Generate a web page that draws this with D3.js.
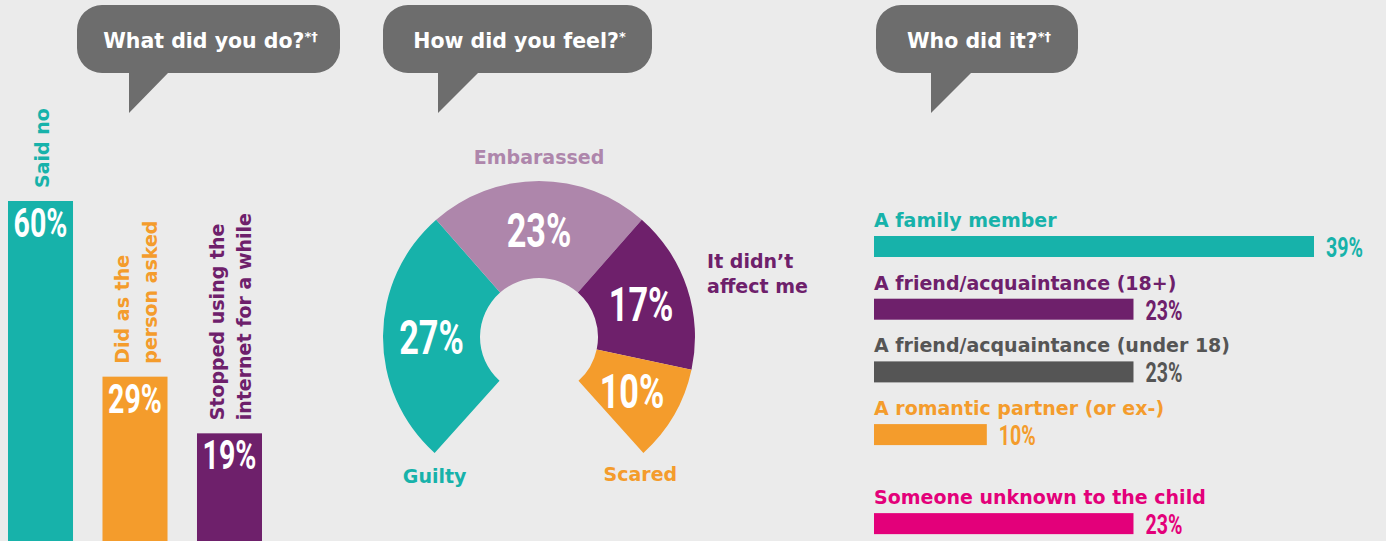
<!DOCTYPE html>
<html><head><meta charset="utf-8">
<script src="https://cdn.jsdelivr.net/npm/d3@7"></script>
<style>
html,body{margin:0;padding:0;background:#EBEBEB;overflow:hidden}
svg{display:block}
</style></head><body>
<svg id="chart" width="1386" height="541"></svg>
<script>
// ---------- DATA ----------
const titles = ["What did you do?", "How did you feel?", "Who did it?"];
const titleMarks = ["*†", "*", "*†"];

const doCategories = ["Said no", "Did as the person asked", "Stopped using the internet for a while"];
const doLabelLines = [["Said no"], ["Did as the", "person asked"], ["Stopped using the", "internet for a while"]];
const doValues = [60, 29, 19];

const feelCategories = ["Guilty", "Embarassed", "It didn’t affect me", "Scared"];
const feelLabelLines = [["Guilty"], ["Embarassed"], ["It didn’t", "affect me"], ["Scared"]];
const feelValues = [27, 23, 17, 10];

const whoCategories = ["A family member", "A friend/acquaintance (18+)", "A friend/acquaintance (under 18)", "A romantic partner (or ex-)", "Someone unknown to the child"];
const whoGroups = ["known", "known", "known", "known", "unknown"];
const whoValues = [39, 23, 23, 10, 23];

// ---------- STYLES ----------
const TEAL = "#17B2AA", LILAC = "#AE86AB", PURPLE = "#6E206B", ORANGE = "#F49C2C",
      GREY = "#555555", MAGENTA = "#E3007A", BUBBLE = "#6D6D6D";
const doColors = [TEAL, ORANGE, PURPLE];
const feelColors = [TEAL, LILAC, PURPLE, ORANGE];
const whoColors = [TEAL, PURPLE, GREY, ORANGE, MAGENTA];
const LABEL_FONT = "'DejaVu Sans', sans-serif";
const NUM_FONT = "Roboto, 'DejaVu Sans Condensed', sans-serif";
const NUM_SX = 0.70;
const pctFmt = v => v + "%";

const svg = d3.select("#chart");
svg.append("rect").attr("width", 1386).attr("height", 541).attr("fill", "#EBEBEB");

// number text helper (condensed look)
function numText(g, x, y, txt, size, color, anchor) {
  g.append("text")
    .attr("transform", `translate(${x},${y}) scale(${NUM_SX},1)`)
    .attr("text-anchor", anchor || "middle")
    .attr("font-family", NUM_FONT).attr("font-weight", 700)
    .attr("font-size", size).attr("fill", color)
    .text(txt);
}

// ---------- SPEECH BUBBLES ----------
const bubbles = [
  {x0: 77, x1: 340, tailL: 129, tailR: 168},
  {x0: 383, x1: 652, tailL: 438, tailR: 478},
  {x0: 876, x1: 1078, tailL: 931, tailR: 971}
];
const by0 = 5, by1 = 73, br = 25, tipY = 113;
bubbles.forEach((b, i) => {
  const p = d3.path();
  p.moveTo(b.x0 + br, by0);
  p.lineTo(b.x1 - br, by0);
  p.arcTo(b.x1, by0, b.x1, by0 + br, br);
  p.lineTo(b.x1, by1 - br);
  p.arcTo(b.x1, by1, b.x1 - br, by1, br);
  p.lineTo(b.tailR, by1);
  p.lineTo(b.tailL, tipY);
  p.lineTo(b.tailL, by1);
  p.lineTo(b.x0 + br, by1);
  p.arcTo(b.x0, by1, b.x0, by1 - br, br);
  p.lineTo(b.x0, by0 + br);
  p.arcTo(b.x0, by0, b.x0 + br, by0, br);
  p.closePath();
  svg.append("path").attr("d", p.toString()).attr("fill", BUBBLE);
  const t = svg.append("text")
    .attr("x", (b.x0 + b.x1) / 2 + 2).attr("y", 48)
    .attr("text-anchor", "middle")
    .attr("font-family", LABEL_FONT).attr("font-weight", 700)
    .attr("font-size", 20.5).attr("fill", "#FFFFFF");
  t.append("tspan").text(titles[i]);
  t.append("tspan").attr("font-size", 13).attr("dy", -7).text(titleMarks[i]);
});

// ---------- LEFT: WHAT DID YOU DO ----------
const gDo = svg.append("g");
const xDo = d3.scaleBand().domain(doCategories).range([8, 262]).paddingInner(0.312).paddingOuter(0);
const yDo = d3.scaleLinear().domain([0, 60]).range([541, 201]);
doCategories.forEach((c, i) => {
  const v = doValues[i];
  const x = xDo(c), w = xDo.bandwidth(), y = yDo(v);
  gDo.append("rect").attr("x", x).attr("y", y).attr("width", w).attr("height", yDo(0) - y).attr("fill", doColors[i]);
  numText(gDo, x + w / 2, y + 36, pctFmt(v), 40.8, "#FFFFFF");
  const lines = doLabelLines[i];
  const lh = 27.5;
  const bx = x + w / 2 + 8 - (lines.length - 1) * lh / 2;
  const t = gDo.append("text")
    .attr("transform", `translate(${bx},${y - 13}) rotate(-90)`)
    .attr("text-anchor", "start")
    .attr("font-family", LABEL_FONT).attr("font-weight", 700)
    .attr("font-size", 19).attr("fill", doColors[i]);
  lines.forEach((l, j) => t.append("tspan").attr("x", 0).attr("dy", j === 0 ? 0 : lh).text(l));
});

// ---------- MIDDLE: HOW DID YOU FEEL ----------
const cx = 539, cy = 337, R = 156, r0 = 59;
const gFeel = svg.append("g").attr("transform", `translate(${cx},${cy})`);
const pie = d3.pie().sort(null).value(d => d)
  .startAngle(-138 * Math.PI / 180).endAngle(138 * Math.PI / 180);
const arc = d3.arc().innerRadius(r0).outerRadius(R);
const arcs = pie(feelValues);
gFeel.selectAll("path.slice").data(arcs).join("path")
  .attr("class", "slice").attr("d", arc).attr("fill", (d, i) => feelColors[i]);
arcs.forEach((a, i) => {
  const [x, y] = arc.centroid(a);
  numText(gFeel, x, y + 17.5, pctFmt(a.data), 49, "#FFFFFF");
});
// outer category labels
const ptAt = (ang, rad) => [rad * Math.sin(ang), -rad * Math.cos(ang)];
const feelPlace = [
  a => ({p: ptAt(a.startAngle, R), dx: 0, dy: 30, anchor: "middle"}),
  a => ({p: ptAt((a.startAngle + a.endAngle) / 2, R), dx: 0, dy: -17, anchor: "middle"}),
  a => ({p: ptAt((a.startAngle + a.endAngle) / 2, R), dx: 20, dy: -20, anchor: "start"}),
  a => ({p: ptAt(a.endAngle, R), dx: -3, dy: 28, anchor: "middle"})
];
arcs.forEach((a, i) => {
  const pl = feelPlace[i](a);
  const t = gFeel.append("text")
    .attr("x", pl.p[0] + pl.dx).attr("y", pl.p[1] + pl.dy)
    .attr("text-anchor", pl.anchor)
    .attr("font-family", LABEL_FONT).attr("font-weight", 700)
    .attr("font-size", 19).attr("fill", feelColors[i]);
  feelLabelLines[i].forEach((l, j) => t.append("tspan")
    .attr("x", pl.p[0] + pl.dx).attr("dy", j === 0 ? 0 : 25).text(l));
});

// ---------- RIGHT: WHO DID IT ----------
const gWho = svg.append("g");
const xWho = d3.scaleLinear().domain([0, 39]).range([874, 1314]);
const groupList = Array.from(new Set(whoGroups));
const GROUP_GAP = 0.42;
const rowPos = whoCategories.map((c, i) => i + groupList.indexOf(whoGroups[i]) * GROUP_GAP);
const yWho = d3.scaleLinear().domain([0, 1]).range([236, 298.7]);
const barH = 21;
whoCategories.forEach((c, i) => {
  const v = whoValues[i];
  const y = yWho(rowPos[i]);
  gWho.append("rect").attr("x", xWho(0)).attr("y", y)
    .attr("width", xWho(v) - xWho(0)).attr("height", barH).attr("fill", whoColors[i]);
  gWho.append("text").attr("x", xWho(0)).attr("y", y - 9)
    .attr("font-family", LABEL_FONT).attr("font-weight", 700)
    .attr("font-size", 19).attr("fill", whoColors[i]).text(c);
  numText(gWho, xWho(v) + 12, y + barH, pctFmt(v), 28, whoColors[i], "start");
});
</script>
</body></html>
